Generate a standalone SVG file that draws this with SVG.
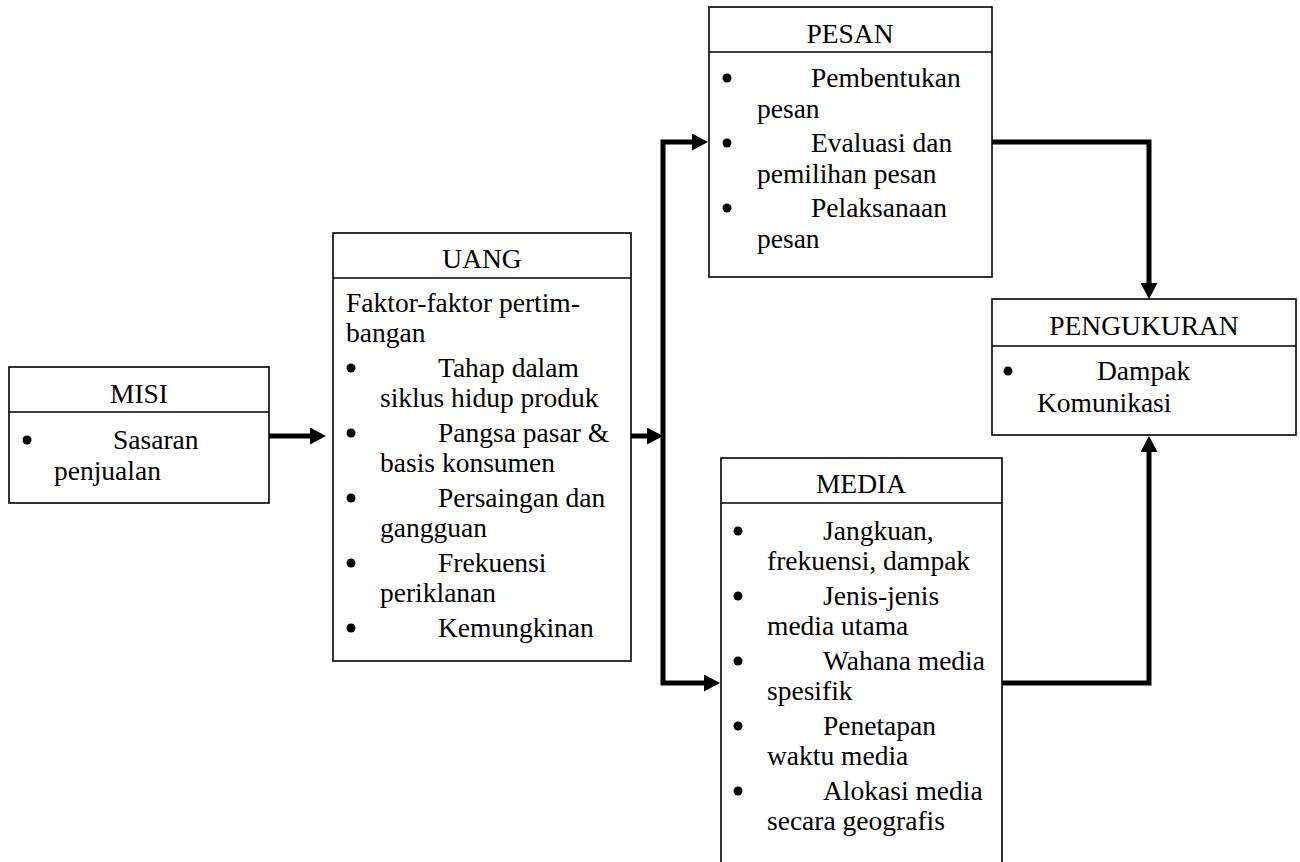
<svg xmlns="http://www.w3.org/2000/svg" width="1300" height="862" viewBox="0 0 1300 862">
<style>
.box{fill:#fff;stroke:#000;stroke-width:1.6}
.div{stroke:#000;stroke-width:1.6}
text{font-family:"Liberation Serif","Times New Roman",serif;font-size:27.5px;fill:#000}
.t{text-anchor:middle}
.b{fill:#000}
.c{fill:none;stroke:#000;stroke-width:5;stroke-linejoin:miter}
</style>
<defs>
<marker id="ah" markerUnits="userSpaceOnUse" markerWidth="16" markerHeight="17" refX="0" refY="8.5" orient="auto">
<path d="M0,0 L16,8.5 L0,17 z" fill="#000"/>
</marker>
</defs>
<rect width="1300" height="862" fill="#fff"/>
<g id="connectors">
<path class="c" d="M269,436 H310" marker-end="url(#ah)"/>
<path class="c" d="M631,436 H647" marker-end="url(#ah)"/>
<path class="c" d="M663,436 V142 H692" marker-end="url(#ah)"/>
<path class="c" d="M663,436 V683 H704" marker-end="url(#ah)"/>
<path class="c" d="M992,142 H1149 V283" marker-end="url(#ah)"/>
<path class="c" d="M1002,683 H1149 V452" marker-end="url(#ah)"/>
</g>
<g id="misi">
<rect class="box" x="9" y="367" width="260" height="136"/>
<line class="div" x1="9" y1="412" x2="269" y2="412"/>
<text class="t" x="139" y="403">MISI</text>
<circle class="b" cx="27" cy="440" r="4.5"/>
<text x="113" y="449">Sasaran</text>
<text x="54" y="480">penjualan</text>
</g>
<g id="uang">
<rect class="box" x="333" y="233" width="298" height="428"/>
<line class="div" x1="333" y1="278" x2="631" y2="278"/>
<text class="t" x="482" y="268">UANG</text>
<text x="346" y="312">Faktor-faktor pertim-</text>
<text x="346" y="342">bangan</text>
<circle class="b" cx="351" cy="368" r="4.5"/>
<text x="438" y="377">Tahap dalam</text>
<text x="380" y="407">siklus hidup produk</text>
<circle class="b" cx="351" cy="433" r="4.5"/>
<text x="438" y="442">Pangsa pasar &amp;</text>
<text x="380" y="472">basis konsumen</text>
<circle class="b" cx="351" cy="498" r="4.5"/>
<text x="438" y="507">Persaingan dan</text>
<text x="380" y="537">gangguan</text>
<circle class="b" cx="351" cy="563" r="4.5"/>
<text x="438" y="572">Frekuensi</text>
<text x="380" y="602">periklanan</text>
<circle class="b" cx="351" cy="628" r="4.5"/>
<text x="438" y="637">Kemungkinan</text>
</g>
<g id="pesan">
<rect class="box" x="709" y="7" width="283" height="270"/>
<line class="div" x1="709" y1="52" x2="992" y2="52"/>
<text class="t" x="850" y="43">PESAN</text>
<circle class="b" cx="727" cy="78" r="4.5"/>
<text x="811" y="87">Pembentukan</text>
<text x="757" y="118">pesan</text>
<circle class="b" cx="727" cy="143" r="4.5"/>
<text x="811" y="152">Evaluasi dan</text>
<text x="757" y="183">pemilihan pesan</text>
<circle class="b" cx="727" cy="208" r="4.5"/>
<text x="811" y="217">Pelaksanaan</text>
<text x="757" y="248">pesan</text>
</g>
<g id="pengukuran">
<rect class="box" x="992" y="299" width="304" height="136"/>
<line class="div" x1="992" y1="346" x2="1296" y2="346"/>
<text class="t" x="1144" y="335">PENGUKURAN</text>
<circle class="b" cx="1008" cy="371" r="4.5"/>
<text x="1097" y="380">Dampak</text>
<text x="1037" y="412">Komunikasi</text>
</g>
<g id="media">
<rect class="box" x="721" y="458" width="281" height="420"/>
<line class="div" x1="721" y1="503" x2="1002" y2="503"/>
<text class="t" x="861" y="493">MEDIA</text>
<circle class="b" cx="738" cy="531" r="4.5"/>
<text x="823" y="540">Jangkuan,</text>
<text x="767" y="570">frekuensi, dampak</text>
<circle class="b" cx="738" cy="596" r="4.5"/>
<text x="823" y="605">Jenis-jenis</text>
<text x="767" y="635">media utama</text>
<circle class="b" cx="738" cy="661" r="4.5"/>
<text x="823" y="670">Wahana media</text>
<text x="767" y="700">spesifik</text>
<circle class="b" cx="738" cy="726" r="4.5"/>
<text x="823" y="735">Penetapan</text>
<text x="767" y="765">waktu media</text>
<circle class="b" cx="738" cy="791" r="4.5"/>
<text x="823" y="800">Alokasi media</text>
<text x="767" y="830">secara geografis</text>
</g>
</svg>
